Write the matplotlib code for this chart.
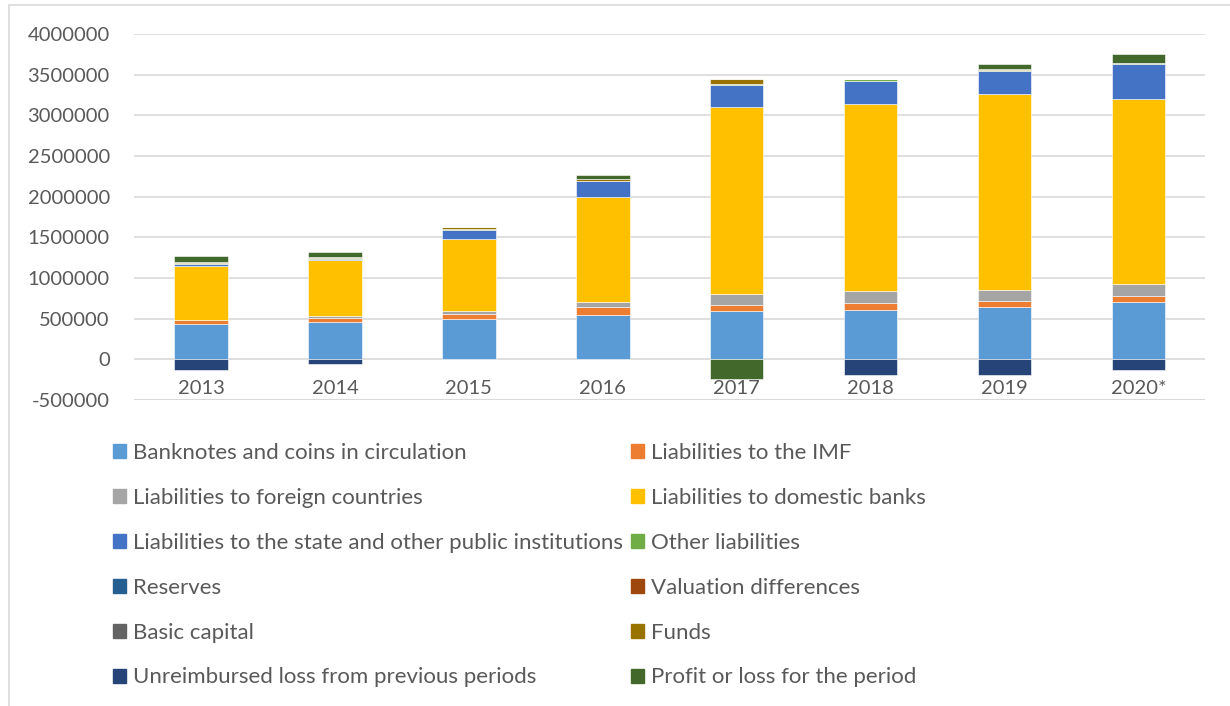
import matplotlib.pyplot as plt
import matplotlib.patches as mpatches
import numpy as np

years = ["2013", "2014", "2015", "2016", "2017", "2018", "2019", "2020*"]

banknotes = [439000, 464000, 501000, 545000, 590000, 612000, 640000, 705000]
imf = [41000, 44000, 53000, 95000, 75000, 77000, 78000, 79000]
foreign = [8000, 25000, 37000, 62000, 140000, 152000, 135000, 143000]
domestic = [660000, 694000, 886000, 1296000, 2297000, 2297000, 2412000, 2277000]
state = [30000, 10000, 119000, 189000, 271000, 287000, 283000, 427000]
other = [8000, 5000, 5000, 8000, 12000, 20000, 15000, 10000]
reserves = [0, 0, 0, 0, 0, 0, 0, 0]
valuation = [0, 0, 0, 0, 0, 0, 0, 0]
basic_capital = [0, 0, 0, 0, 0, 0, 0, 0]
funds = [5000, 20000, 25000, 17000, 60000, 0, 5000, 8000]
unreimbursed = [-127000, -53000, 0, 0, 0, -193000, -189000, -135000]
profit = [74000, 62000, 0, 50000, -246000, 0, 68000, 100000]

series = [
    ("Banknotes and coins in circulation", banknotes, "#5B9BD5"),
    ("Liabilities to the IMF", imf, "#ED7D31"),
    ("Liabilities to foreign countries", foreign, "#A5A5A5"),
    ("Liabilities to domestic banks", domestic, "#FFC000"),
    ("Liabilities to the state and other public institutions", state, "#4472C4"),
    ("Other liabilities", other, "#70AD47"),
    ("Reserves", reserves, "#255E91"),
    ("Valuation differences", valuation, "#9E480E"),
    ("Basic capital", basic_capital, "#636363"),
    ("Funds", funds, "#997300"),
    ("Unreimbursed loss from previous periods", unreimbursed, "#264478"),
    ("Profit or loss for the period", profit, "#43682B"),
]

plt.rcParams['font.family'] = ['Lato', 'DejaVu Sans']
txt = "#595959"

fig = plt.figure(figsize=(12.3, 7.06), dpi=100)
ax = fig.add_axes([0.109, 0.4334, 0.871, 0.5185])

x = np.arange(len(years))
pos_base = np.zeros(len(years))
neg_base = np.zeros(len(years))
handles = []
for name, vals, col in series:
    v = np.array(vals, dtype=float)
    bottom = np.where(v >= 0, pos_base, neg_base)
    ax.bar(x, v, 0.4, bottom=bottom, color=col, edgecolor="white", linewidth=0.4, zorder=3)
    pos_base = pos_base + np.where(v >= 0, v, 0)
    neg_base = neg_base + np.where(v < 0, v, 0)
    handles.append(mpatches.Patch(color=col, label=name))

ax.set_xlim(-0.5, len(years) - 0.5)
ax.set_ylim(-500000, 4000000)
ax.set_yticks(np.arange(-500000, 4000001, 500000))
ax.set_yticklabels([str(v) for v in range(-500000, 4000001, 500000)])
ax.yaxis.grid(True, color="#D9D9D9", linewidth=1.2, zorder=0)
ax.tick_params(axis="y", length=0, labelsize=14.5, labelcolor=txt, pad=17.5)
ax.set_xticks([])
for s in ax.spines.values():
    s.set_visible(False)
ax.axhline(-500000, color="#D9D9D9", linewidth=1.5, zorder=1)

for i, y in enumerate(years):
    ax.text(i, -357000, y, ha="center", va="center", fontsize=14.5, color=txt)

# legend in row order, two columns
order = [0, 2, 4, 6, 8, 10, 1, 3, 5, 7, 9, 11]
leg = fig.legend([handles[i] for i in order], [series[i][0] for i in order],
                 ncol=2, loc="upper left", bbox_to_anchor=(0.0919, 0.3725),
                 frameon=False, fontsize=16, labelcolor=txt,
                 handlelength=0.6, handleheight=0.6, handletextpad=0.3,
                 columnspacing=0.35, labelspacing=1.12, borderaxespad=0,
                 borderpad=0)

fig.patches.append(mpatches.Rectangle((9 / 1230, -0.1), 1.2, 1 - 5 / 706 + 0.1,
                                      transform=fig.transFigure, fill=False,
                                      edgecolor="#D9D9D9", linewidth=1.2))

fig.savefig("out.png", dpi=100)
